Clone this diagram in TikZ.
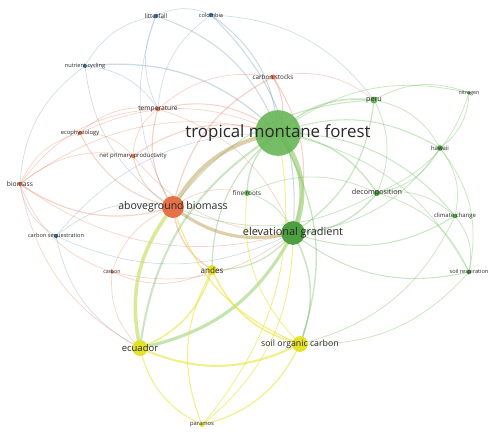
\documentclass[tikz,border=0pt]{standalone}
\usepackage{fontspec}
\setmainfont{Open Sans}
\definecolor{cgreen}{RGB}{104,182,88}
\definecolor{cdgreen}{RGB}{78,158,66}
\definecolor{corange}{RGB}{230,112,72}
\definecolor{cyellow}{RGB}{228,226,44}
\definecolor{cblue}{RGB}{74,122,162}
\definecolor{ctan}{RGB}{205,180,125}
\definecolor{cyg}{RGB}{196,222,90}
\definecolor{clgreen}{RGB}{150,205,110}
\definecolor{labc}{RGB}{40,40,40}
\pgfdeclarelayer{bg}
\pgfsetlayers{bg,main}
\tikzset{
  dot/.style={circle, inner sep=0pt, minimum size=#1},
  lab/.style={font=\fontsize{#1}{#1}\selectfont, text=labc, inner sep=0pt},
  gl/.style={draw=cgreen, line width=#1, draw opacity=0.35},
  ol/.style={draw=corange, line width=#1, draw opacity=0.3},
  yl/.style={draw=cyellow, line width=#1, draw opacity=0.55},
  bl/.style={draw=cblue, line width=#1, draw opacity=0.28},
  gl/.default=0.45pt, ol/.default=0.4pt, yl/.default=0.5pt, bl/.default=0.35pt,
  every to/.style={bend left=25}
}
\begin{document}
\begin{tikzpicture}[x=0.02cm, y=-0.02cm]
\useasboundingbox (0,0) rectangle (500,436);

% nodes
\node[dot=26pt, fill=cgreen, fill opacity=0.9] (tmf) at (278,133) {};
\node[lab=9.6] (tmfl) at (tmf) {tropical montane forest};
\node[dot=12.5pt, fill=corange] (agb) at (173,207) {};
\node[lab=6] (agbl) at (agb) {aboveground biomass};
\node[dot=13.5pt, fill=cdgreen] (eg) at (293,233) {};
\node[lab=6.2] (egl) at (eg) {elevational gradient};
\node[dot=9pt, fill=cyellow] (ecu) at (140,348) {};
\node[lab=5.4] (eculb) at (ecu) {ecuador};
\node[dot=9pt, fill=cyellow] (soc) at (300,344) {};
\node[lab=5] (socl) at (soc) {soil organic carbon};
\node[dot=5.7pt, fill=cyellow] (and) at (212,270) {};
\node[lab=4.6] (andl) at (and) {andes};
\node[dot=2.4pt, fill=cyellow] (par) at (202,425) {};
\node[lab=3.3] (parl) at (par) {paramos};
\node[dot=3.4pt, fill=cgreen] (fr) at (247,193) {};
\node[lab=3.6] (frl) at (fr) {fine roots};
\node[dot=3.4pt, fill=cdgreen] (dec) at (377,193) {};
\node[lab=4.1] (decl) at (dec) {decomposition};
\node[dot=4pt, fill=cgreen] (peru) at (374,100) {};
\node[lab=4.1] (perul) at (peru) {peru};
\node[dot=2.2pt, fill=cdgreen] (nit) at (469,93) {};
\node[lab=3] (nitl) at (nit) {nitrogen};
\node[dot=3.2pt, fill=cdgreen] (haw) at (440,148) {};
\node[lab=3.4] (hawl) at (haw) {hawaii};
\node[dot=2.6pt, fill=cdgreen] (cc) at (455,216) {};
\node[lab=3.4] (ccl) at (cc) {climate change};
\node[dot=2.6pt, fill=cdgreen] (sr) at (469,272) {};
\node[lab=3.2] (srl) at (sr) {soil respiration};
\node[dot=2.8pt, fill=corange] (cs) at (273,77) {};
\node[lab=3.6] (csl) at (cs) {carbon stocks};
\node[dot=2.6pt, fill=corange] (temp) at (158,109) {};
\node[lab=3.8] (templ) at (temp) {temperature};
\node[dot=2.4pt, fill=corange] (eco) at (80,133) {};
\node[lab=3.3] (ecol) at (eco) {ecophysiology};
\node[dot=2.4pt, fill=corange] (npp) at (133,156) {};
\node[lab=3.4] (nppl) at (npp) {net primary productivity};
\node[dot=2.4pt, fill=corange] (bio) at (20,184) {};
\node[lab=3.8] (biol) at (bio) {biomass};
\node[dot=2.4pt, fill=cblue] (cseq) at (56,236) {};
\node[lab=3.2] (cseql) at (cseq) {carbon sequestration};
\node[dot=2.2pt, fill=corange] (carb) at (112,272) {};
\node[lab=3] (carbl) at (carb) {carbon};
\node[dot=2.6pt, fill=cblue] (lit) at (156,16) {};
\node[lab=3.6] (litl) at (lit) {litterfall};
\node[dot=2.6pt, fill=cblue] (col) at (211,15) {};
\node[lab=3.2] (coll) at (col) {colombia};
\node[dot=2.4pt, fill=cblue] (nc) at (85,66) {};
\node[lab=3.2] (ncl) at (nc) {nutrient cycling};

\begin{pgfonlayer}{bg}
% blue links
\draw[bl] (nc.center) to (lit.center);
\draw[bl] (lit.center) to (col.center);
\draw[bl=0.6pt] (lit.center) to (tmf.center);
\draw[bl] (temp.center) to (lit.center);
\draw[bl] (agb.center) to (lit.center);
\draw[bl=0.6pt] (col.center) to (tmf.center);
\draw[bl=0.6pt] (col.center) to (eg.center);
\draw[bl] (temp.center) to (col.center);
\draw[bl] (col.center) to (peru.center);
\draw[bl=0.7pt] (nc.center) to (tmf.center);
\draw[bl] (agb.center) to (nc.center);
\draw[bl] (bio.center) to (nc.center);
\draw[bl] (nc.center) to (temp.center);
\draw[bl] (cseq.center) to (bio.center);
\draw[bl] (cseq.center) to (agb.center);
\draw[bl] (cseq.center) to (tmf.center);
\draw[bl] (eg.center) to (cseq.center);
\draw[bl] (ecu.center) to (cseq.center);
% orange links
\draw[draw=ctan, line width=2.3pt, draw opacity=0.65] (agb.center) to (tmf.center);
\draw[draw=ctan, line width=1.8pt, draw opacity=0.65] (eg.center) to (agb.center);
\draw[ol=0.7pt] (agb.center) to (temp.center);
\draw[ol=0.6pt] (agb.center) to (eco.center);
\draw[ol=0.6pt] (agb.center) to (npp.center);
\draw[ol=0.7pt] (agb.center) to (bio.center);
\draw[ol=0.7pt] (agb.center) to (cs.center);
\draw[ol] (carb.center) to (agb.center);
\draw[ol] (agb.center) to (fr.center);
\draw[ol=0.6pt] (temp.center) to (tmf.center);
\draw[ol] (npp.center) to (temp.center);
\draw[ol] (eco.center) to (temp.center);
\draw[ol] (bio.center) to (temp.center);
\draw[ol] (temp.center) to (eg.center);
\draw[ol] (eco.center) to (npp.center);
\draw[ol] (bio.center) to (eco.center);
\draw[ol] (eco.center) to (tmf.center);
\draw[ol=0.6pt] (npp.center) to (tmf.center);
\draw[ol] (bio.center) to (npp.center);
\draw[ol] (eg.center) to (npp.center);
\draw[ol] (bio.center) to (tmf.center);
\draw[ol] (eg.center) to (bio.center);
\draw[ol=0.7pt] (cs.center) to (tmf.center);
\draw[ol=0.6pt] (cs.center) to (eg.center);
\draw[ol] (temp.center) to (cs.center);
\draw[ol] (cs.center) to (peru.center);
\draw[ol] (ecu.center) to (carb.center);
\draw[ol] (eg.center) to (carb.center);
\draw[ol] (and.center) to (carb.center);
\draw[ol] (carb.center) to (bio.center);
\draw[ol] (ecu.center) to (bio.center);
\draw[ol=0.8pt] (and.center) to (agb.center);
% green links
\draw[draw=clgreen, line width=2.8pt, draw opacity=0.65] (tmf.center) to[bend left=32] (eg.center);
\draw[draw=clgreen, line width=1.8pt, draw opacity=0.55] (eg.center) to (ecu.center);
\draw[gl=1.2pt] (ecu.center) to (tmf.center);
\draw[gl=0.9pt] (tmf.center) to (peru.center);
\draw[gl=0.8pt] (tmf.center) to (dec.center);
\draw[gl=0.6pt] (tmf.center) to (haw.center);
\draw[gl=0.6pt] (tmf.center) to (cc.center);
\draw[gl=0.8pt] (fr.center) to (tmf.center);
\draw[gl] (tmf.center) to (sr.center);
\draw[gl] (tmf.center) to (nit.center);
\draw[gl=0.7pt] (and.center) to (tmf.center);
\draw[gl=0.8pt] (tmf.center) to (soc.center);
\draw[gl=0.7pt] (peru.center) to (eg.center);
\draw[gl=0.8pt] (dec.center) to (eg.center);
\draw[gl=0.6pt] (cc.center) to (eg.center);
\draw[gl=0.6pt] (sr.center) to (eg.center);
\draw[gl] (fr.center) to (eg.center);
\draw[gl=0.9pt] (eg.center) to (soc.center);
\draw[gl=0.7pt] (eg.center) to (and.center);
\draw[gl] (haw.center) to (eg.center);
\draw[gl] (peru.center) to (nit.center);
\draw[gl] (peru.center) to (haw.center);
\draw[gl] (peru.center) to (dec.center);
\draw[gl] (nit.center) to (haw.center);
\draw[gl] (haw.center) to (cc.center);
\draw[gl] (haw.center) to (dec.center);
\draw[gl] (haw.center) to (sr.center);
\draw[gl] (dec.center) to (cc.center);
\draw[gl] (dec.center) to (sr.center);
\draw[gl] (cc.center) to (sr.center);
\draw[gl] (nit.center) to (dec.center);
\draw[gl] (fr.center) to (dec.center);
\draw[gl=0.6pt] (agb.center) to (peru.center);
\draw[gl] (sr.center) to (soc.center);
\draw[gl] (cc.center) to (soc.center);
\draw[gl] (dec.center) to (agb.center);
% yellow links
\draw[draw=cyg, line width=2pt, draw opacity=0.65] (ecu.center) to (agb.center);
\draw[yl=1.2pt] (soc.center) to (ecu.center);
\draw[yl=0.9pt] (and.center) to (ecu.center);
\draw[yl=0.6pt] (par.center) to (ecu.center);
\draw[yl=0.9pt] (soc.center) to (and.center);
\draw[yl=0.6pt] (par.center) to (and.center);
\draw[yl=0.7pt] (soc.center) to (par.center);
\draw[yl=0.7pt] (soc.center) to (agb.center);
\draw[yl] (eg.center) to (par.center);
\draw[yl] (tmf.center) to (par.center);
\draw[yl] (soc.center) to (fr.center);
\end{pgfonlayer}
\end{tikzpicture}
\end{document}
